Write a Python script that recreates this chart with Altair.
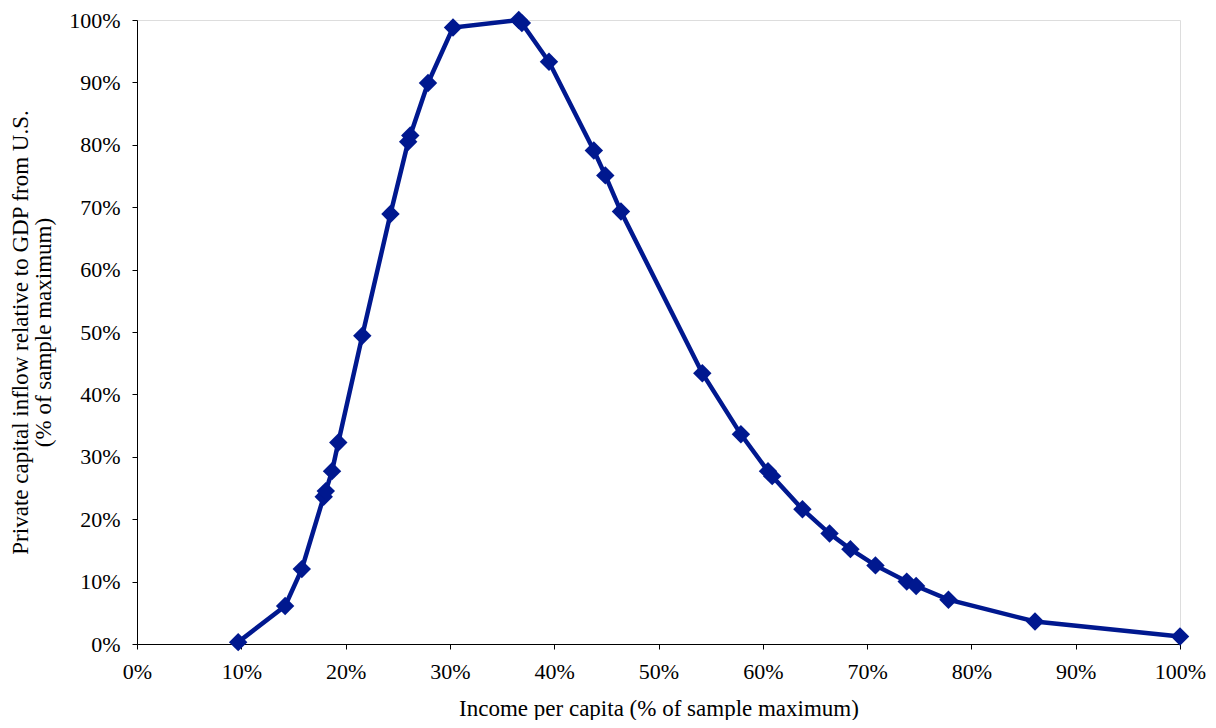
import altair as alt
import pandas as pd

income_pct = [9.7, 14.2, 15.8, 17.9, 18.1, 18.7, 19.3, 21.6, 24.3, 26.0, 26.2, 27.9,
              30.3, 36.6, 36.9, 39.5, 43.8, 44.9, 46.4, 54.2, 57.9, 60.5, 60.9, 63.8,
              66.4, 68.4, 70.8, 73.8, 74.7, 77.8, 86.1, 100.0]
inflow_pct = [0.3, 6.1, 12.0, 23.6, 24.5, 27.7, 32.3, 49.4, 68.9, 80.5, 81.5, 89.9,
              98.8, 100.0, 99.5, 93.3, 79.1, 75.1, 69.3, 43.4, 33.6, 27.7, 26.9, 21.6,
              17.7, 15.2, 12.6, 10.0, 9.3, 7.1, 3.6, 1.2]

df = pd.DataFrame({"x": [v / 100 for v in income_pct], "y": [v / 100 for v in inflow_pct]})

COLOR = "#00188F"
FONT = "Liberation Serif"

x_enc = alt.X("x:Q", scale=alt.Scale(domain=[0, 1], nice=False),
              axis=alt.Axis(format=".0%", values=[i / 10 for i in range(11)],
                            title="Income per capita (% of sample maximum)",
                            grid=False, tickSize=5, labelPadding=12, titlePadding=15,
                            domainColor="black", tickColor="black",
                            labelFont=FONT, labelFontSize=22, labelColor="black",
                            titleFont=FONT, titleFontSize=23, titleFontWeight="normal",
                            titleColor="black", labelFlush=False))
y_enc = alt.Y("y:Q", scale=alt.Scale(domain=[0, 1], nice=False),
              axis=alt.Axis(format=".0%", values=[i / 10 for i in range(11)],
                            title=["Private capital inflow relative to GDP from U.S.",
                                   "(% of sample maximum)"],
                            grid=False, tickSize=5, labelPadding=12, titlePadding=13,
                            domainColor="black", tickColor="black",
                            labelFont=FONT, labelFontSize=22, labelColor="black",
                            titleFont=FONT, titleFontSize=23, titleFontWeight="normal",
                            titleColor="black", titleLineHeight=23, labelFlush=False))

line = alt.Chart(df).mark_line(color=COLOR, strokeWidth=4.5).encode(
    x=x_enc, y=y_enc, order="x:Q")
pts = alt.Chart(df).mark_point(shape="diamond", filled=True, color=COLOR,
                               size=340, opacity=1).encode(x="x:Q", y="y:Q")

chart = (line + pts).properties(
    width=1043, height=624,
    autosize=alt.AutoSizeParams(type="none"),
    padding={"left": 129, "top": 12, "right": 28, "bottom": 76},
).configure_view(stroke="#333333", strokeWidth=1.5).configure(background="white")

chart.save("out.html", embed_options={"renderer": "svg", "actions": False})
